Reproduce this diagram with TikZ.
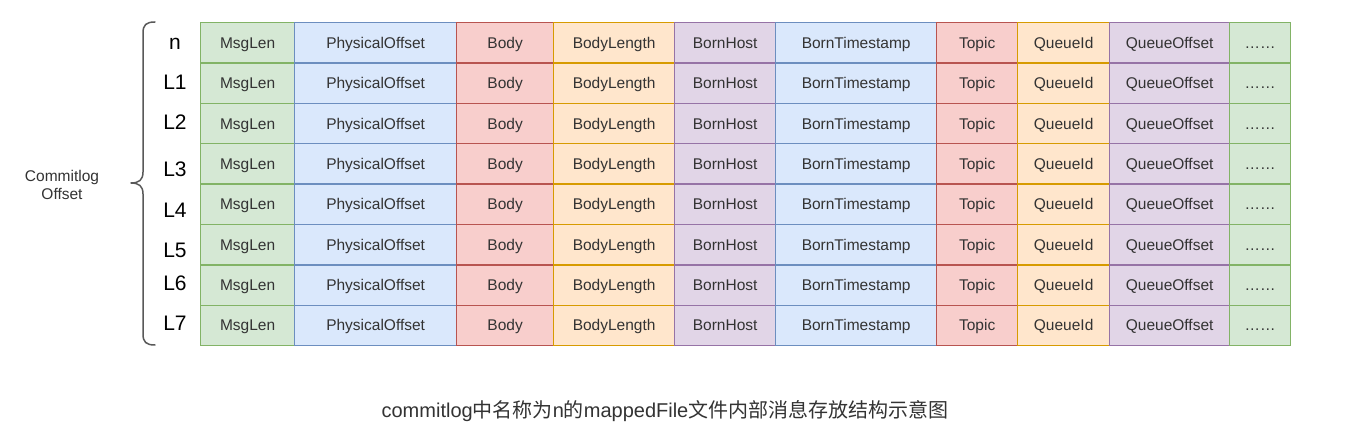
\documentclass[tikz,border=0pt]{standalone}
\usepackage{fontspec}
\setmainfont{Liberation Sans}
\newfontfamily\cjk{Noto Sans CJK SC}
\definecolor{gfill}{HTML}{D5E8D4}\definecolor{gline}{HTML}{82B366}
\definecolor{bfill}{HTML}{DAE8FC}\definecolor{bline}{HTML}{6C8EBF}
\definecolor{rfill}{HTML}{F8CECC}\definecolor{rline}{HTML}{B85450}
\definecolor{ofill}{HTML}{FFE6CC}\definecolor{oline}{HTML}{D79B00}
\definecolor{pfill}{HTML}{E1D5E7}\definecolor{pline}{HTML}{9673A6}
\definecolor{txt}{HTML}{333333}
\begin{document}
\begin{tikzpicture}[x=1pt,y=-1pt,
  cell/.style={draw, line width=1.3pt, minimum height=40.375pt, inner sep=0pt,
    text height=11.2pt, text depth=0.2pt,
    anchor=north west, font=\fontsize{15.5}{18}\selectfont, text=txt},
  gc/.style={fill=gfill, draw=gline},
  bc/.style={fill=bfill, draw=bline},
  rc/.style={fill=rfill, draw=rline},
  oc/.style={fill=ofill, draw=oline},
  pc/.style={fill=pfill, draw=pline},
  rowlbl/.style={font=\fontsize{21}{24}\selectfont, text=black, inner sep=0pt,
    text height=15pt, text depth=0pt},
  bracestyle/.style={draw=black!65, line width=1.5pt, line cap=round, line join=round},
  plain/.style={font=\fontsize{15.5}{18}\selectfont, text=txt, align=center, inner sep=0pt}
]
\useasboundingbox (0,0) rectangle (1364,435);
\fill[white] (0,0) rectangle (1364,435);

\foreach \x/\w/\t/\s [count=\k] in {200/94/MsgLen/gc, 294/162/PhysicalOffset/bc, 456/97/Body/rc, 553/121/BodyLength/oc, 674/101/BornHost/pc, 775/161/BornTimestamp/bc, 936/81/Topic/rc, 1017/92/QueueId/oc, 1109/120/QueueOffset/pc, 1229/61/……/gc}{
  \foreach \r in {0,...,7}{
    \node[cell,\s,minimum width=\w pt] (c\r-\k) at (\x,{22+40.375*\r}) {\t};
  }
}

\foreach \y/\t [count=\i from 0] in {42/n, 82/L1, 122/L2, 169/L3, 210/L4, 250/L5, 283/L6, 323/L7}{
  \node[rowlbl] (lbl\i) at (175,\y) {\t};
}

\draw[bracestyle] (155,22) .. controls (146,22) and (143,25) .. (143,33) -- (143,172)
  .. controls (143,180) and (139,183) .. (131,183)
  .. controls (139,183) and (143,186) .. (143,194) -- (143,334)
  .. controls (143,342) and (146,345) .. (155,345);

\node[plain] (off) at (62,185) {Commitlog\\Offset};

\node[font=\fontsize{20}{24}\selectfont, text=txt, inner sep=0pt] (cap) at (665,411)
  {commitlog{\cjk 中名称为}n{\cjk 的}mappedFile{\cjk 文件内部消息存放结构示意图}};
\end{tikzpicture}
\end{document}
